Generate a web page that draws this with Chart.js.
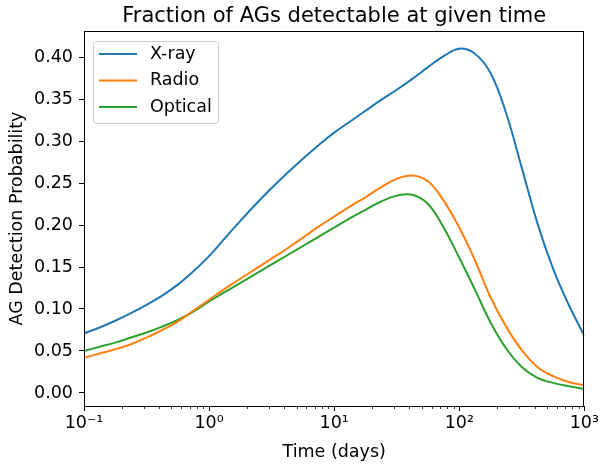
<!DOCTYPE html>
<html lang="en">
<head>
<meta charset="UTF-8">
<title>AG detection probability</title>
<script src="https://cdn.jsdelivr.net/npm/chart.js"></script>
<style>
    body { margin: 0; background: #fff; }
    .wrap { width: 601px; height: 465px; position: relative; }
</style>
</head>
<body>
<div class="wrap"><canvas id="agChart"></canvas></div>
<script>
    // time grid in days, 8 steps per decade
    const days = [0.1, 0.1334, 0.1778, 0.2371, 0.3162, 0.4217, 0.5623, 0.7499,
                  1, 1.334, 1.778, 2.371, 3.162, 4.217, 5.623, 7.499,
                  10, 13.34, 17.78, 23.71, 31.62, 42.17, 56.23, 74.99,
                  100, 133.4, 177.8, 237.1, 316.2, 421.7, 562.3, 749.9, 1000];
    const xray = [0.071, 0.078, 0.086, 0.095, 0.105, 0.116, 0.129, 0.145,
                  0.163, 0.184, 0.205, 0.225, 0.244, 0.262, 0.279, 0.295,
                  0.310, 0.323, 0.336, 0.349, 0.361, 0.374, 0.388, 0.401,
                  0.410, 0.404, 0.381, 0.333, 0.268, 0.202, 0.148, 0.105, 0.068];
    const radio = [0.042, 0.047, 0.052, 0.058, 0.066, 0.075, 0.085, 0.098,
                   0.111, 0.124, 0.136, 0.148, 0.160, 0.172, 0.185, 0.198,
                   0.210, 0.222, 0.233, 0.245, 0.255, 0.259, 0.252, 0.229,
                   0.197, 0.158, 0.114, 0.079, 0.051, 0.031, 0.020, 0.013, 0.009];
    const optical = [0.050, 0.055, 0.060, 0.066, 0.072, 0.079, 0.087, 0.097,
                     0.109, 0.120, 0.131, 0.142, 0.153, 0.164, 0.175, 0.186,
                     0.197, 0.208, 0.218, 0.228, 0.235, 0.236, 0.225, 0.197,
                     0.161, 0.123, 0.084, 0.053, 0.031, 0.018, 0.012, 0.008, 0.005];
    const seriesNames = ['X-ray', 'Radio', 'Optical'];
    const seriesColors = ['#1f77b4', '#ff7f0e', '#2ca02c'];
    const yTicks = [0, 0.05, 0.10, 0.15, 0.20, 0.25, 0.30, 0.35, 0.40];
    const xTicks = [0.1, 1, 10, 100, 1000];
    const xTickLabels = ['10\u207B\u00B9', '10\u2070', '10\u00B9', '10\u00B2', '10\u00B3'];
    const chartTitle = 'Fraction of AGs detectable at given time';

    const FONT = "'DejaVu Sans', sans-serif";
    const FS = 17.5;

    function toPoints(vals) {
        return days.map((d, i) => ({x: d, y: vals[i]}));
    }

    // title over the plot, box around plot, minor log ticks, legend in upper left
    const framePlugin = {
        id: 'frame',
        afterDraw(chart) {
            const ctx = chart.ctx;
            const a = chart.chartArea;
            ctx.save();
            ctx.fillStyle = '#000';
            ctx.font = '21px ' + FONT;
            ctx.textAlign = 'center';
            ctx.textBaseline = 'alphabetic';
            ctx.fillText(chartTitle, (a.left + a.right) / 2, 22);

            ctx.strokeStyle = '#000';
            ctx.lineWidth = 1;
            ctx.strokeRect(Math.round(a.left) + 0.5, Math.round(a.top) + 0.5,
                Math.round(a.right - a.left) - 1, Math.round(a.bottom - a.top));

            // minor ticks on x
            const xs = chart.scales.x;
            ctx.beginPath();
            for (let dec = 0.1; dec < 1000; dec *= 10) {
                for (let k = 2; k <= 9; k++) {
                    const px = Math.round(xs.getPixelForValue(dec * k)) + 0.5;
                    ctx.moveTo(px, a.bottom);
                    ctx.lineTo(px, a.bottom + 3);
                }
            }
            ctx.lineWidth = 0.8;
            ctx.stroke();

            // legend
            const lx = a.left + 9, ly = a.top + 10, lw = 125, lh = 82;
            ctx.beginPath();
            ctx.roundRect(lx + 0.5, ly + 0.5, lw, lh, 3);
            ctx.fillStyle = 'rgba(255,255,255,0.8)';
            ctx.fill();
            ctx.strokeStyle = '#cccccc';
            ctx.lineWidth = 1;
            ctx.stroke();
            ctx.font = FS + 'px ' + FONT;
            ctx.textAlign = 'left';
            ctx.textBaseline = 'middle';
            chart.data.datasets.forEach((ds, i) => {
                const yy = ly + 13 + i * 26.5;
                ctx.beginPath();
                ctx.moveTo(lx + 6, yy);
                ctx.lineTo(lx + 44, yy);
                ctx.strokeStyle = ds.borderColor;
                ctx.lineWidth = 2;
                ctx.stroke();
                ctx.fillStyle = '#000';
                ctx.fillText(ds.label, lx + 57, yy);
            });
            ctx.restore();
        }
    };

    new Chart(document.getElementById('agChart'), {
        type: 'line',
        data: {
            datasets: [xray, radio, optical].map((vals, i) => ({
                label: seriesNames[i],
                data: toPoints(vals),
                borderColor: seriesColors[i],
                backgroundColor: seriesColors[i],
                borderWidth: 2,
                pointRadius: 0,
                tension: 0.4,
                fill: false
            }))
        },
        options: {
            responsive: true,
            maintainAspectRatio: false,
            animation: false,
            layout: { padding: { left: 0, right: 14, top: 31, bottom: 0 } },
            plugins: {
                legend: { display: false },
                tooltip: { enabled: false },
                title: { display: false }
            },
            scales: {
                x: {
                    type: 'logarithmic',
                    min: 0.1,
                    max: 1000,
                    afterBuildTicks: s => { s.ticks = xTicks.map(v => ({value: v})); },
                    afterFit: s => { s.height = 59; },
                    ticks: {
                        color: '#000',
                        font: { family: FONT, size: FS },
                        padding: 2,
                        maxRotation: 0,
                        callback: (v) => xTickLabels[xTicks.indexOf(v)] ?? ''
                    },
                    grid: { drawOnChartArea: false, tickLength: 5, tickColor: '#000', tickWidth: 1 },
                    border: { display: true, color: '#000', width: 1 },
                    title: {
                        display: true,
                        text: 'Time (days)',
                        color: '#000',
                        font: { family: FONT, size: FS },
                        padding: { top: 0, bottom: 2 }
                    }
                },
                y: {
                    min: -0.0155,
                    max: 0.431,
                    afterBuildTicks: s => { s.ticks = yTicks.map(v => ({value: v})); },
                    afterFit: s => { s.width = 84; },
                    ticks: {
                        color: '#000',
                        font: { family: FONT, size: FS },
                        padding: 6,
                        callback: v => v.toFixed(2)
                    },
                    grid: { drawOnChartArea: false, tickLength: 5, tickColor: '#000', tickWidth: 1 },
                    border: { display: true, color: '#000', width: 1 },
                    title: {
                        display: true,
                        text: 'AG Detection Probability',
                        color: '#000',
                        font: { family: FONT, size: FS },
                        padding: { top: 7, bottom: 0 }
                    }
                }
            }
        },
        plugins: [framePlugin]
    });
</script>
</body>
</html>
